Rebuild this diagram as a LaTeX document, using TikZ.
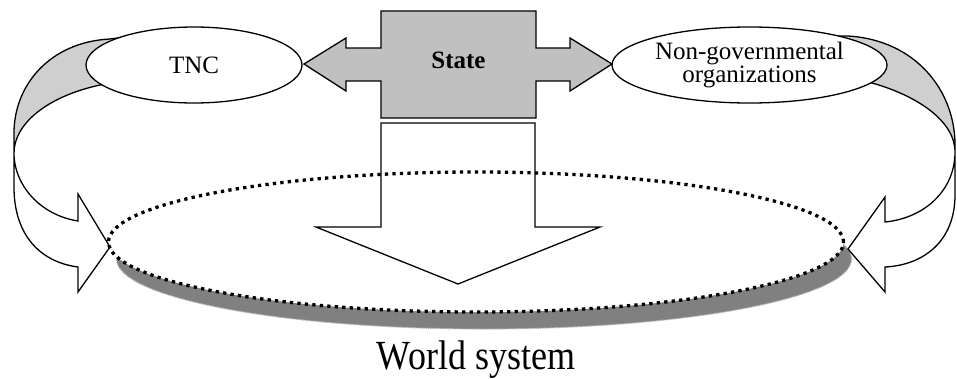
\documentclass[tikz,border=0pt]{standalone}
\usepackage{fontspec}
\setmainfont{Liberation Serif}
\usetikzlibrary{shapes.geometric}
\definecolor{stategray}{HTML}{C0C0C0}
\definecolor{bandgray}{HTML}{CFCFCF}
\definecolor{shadowgray}{HTML}{808080}
\begin{document}
\begin{tikzpicture}[x=1pt,y=-1pt,line join=miter,
  outline/.style={draw=black,line width=1.3pt},
  org/.style={ellipse,draw=black,fill=white,line width=1.3pt,inner sep=0pt,
    font=\fontsize{25}{23}\selectfont,align=center},
  dotline/.style={draw=black,line width=3.3pt,dash pattern=on 3.3pt off 4.2pt},
  lbl/.style={font=\fontsize{25}{30}\selectfont,inner sep=0pt}]
\useasboundingbox (0,0) rectangle (957,378);
% world system ellipse with shadow
\fill[shadowgray] (484,259) ellipse [x radius=367.5pt,y radius=70pt];
\draw[black!30,line width=1.2pt,densely dotted] (484,259) ellipse [x radius=367.5pt,y radius=70pt];
\node[ellipse,fill=white,inner sep=0pt,minimum width=735pt,minimum height=140pt] (world) at (476,242) {};
% down arrow
\draw[outline,fill=white] (381,123) -- (535,123) -- (535,227) -- (600,227) -- (458,284) -- (316,227) -- (381,227) -- cycle;
\draw[dotline] (world.center) ellipse [x radius=367.5pt,y radius=70pt];
% left curved arrow
\fill[bandgray] (125,37) -- (110,39) .. controls (50,42) and (14,85) .. (14,133) -- (14,153) .. controls (14,125) and (45,97) .. (100,85) -- (125,80) -- cycle;
\draw[outline] (125,37) -- (110,39) .. controls (50,42) and (14,85) .. (14,133) -- (14,187) .. controls (14,235) and (40,262) .. (78,267) -- (78,292) -- (110,247) -- (78,194) -- (78,221) .. controls (40,215) and (14,185) .. (14,153) .. controls (14,125) and (45,97) .. (100,85) -- (125,80);
% right curved arrow
\fill[bandgray] (830,36) -- (848,36) .. controls (915,40) and (955,90) .. (955,145) -- (955,152) .. controls (955,120) and (915,95) .. (872,83) -- (855,81) -- cycle;
\draw[outline] (830,36) -- (848,36) .. controls (915,40) and (955,90) .. (955,145) -- (955,195) .. controls (955,240) and (925,265) .. (885,267) -- (885,292) -- (848,249) -- (885,197) -- (885,222) .. controls (925,218) and (955,190) .. (955,152) .. controls (955,120) and (915,95) .. (872,83) -- (855,81);
% organisations
\node[org,minimum width=216pt,minimum height=76pt] (tnc) at (194,65) {TNC};
\node[org,minimum width=275pt,minimum height=76pt] (ngo) at (749.5,65) {Non-governmental\\organizations};
% state with double arrow
\draw[outline,fill=stategray] (304,64) -- (346,38) -- (346,48) -- (381,48) -- (381,11) -- (536,11) -- (536,48) -- (570,48) -- (570,38) -- (612,64) -- (570,91) -- (570,81) -- (536,81) -- (536,118) -- (381,118) -- (381,81) -- (346,81) -- (346,91) -- cycle;
\node[lbl,font=\bfseries\fontsize{25}{30}\selectfont,anchor=base] (state) at (458.5,68) {State};
\node[inner sep=0pt,font=\fontsize{36}{40}\selectfont,anchor=base] (ws) at (476,369) {\scalebox{1}[1.15]{World system}};
\end{tikzpicture}
\end{document}
